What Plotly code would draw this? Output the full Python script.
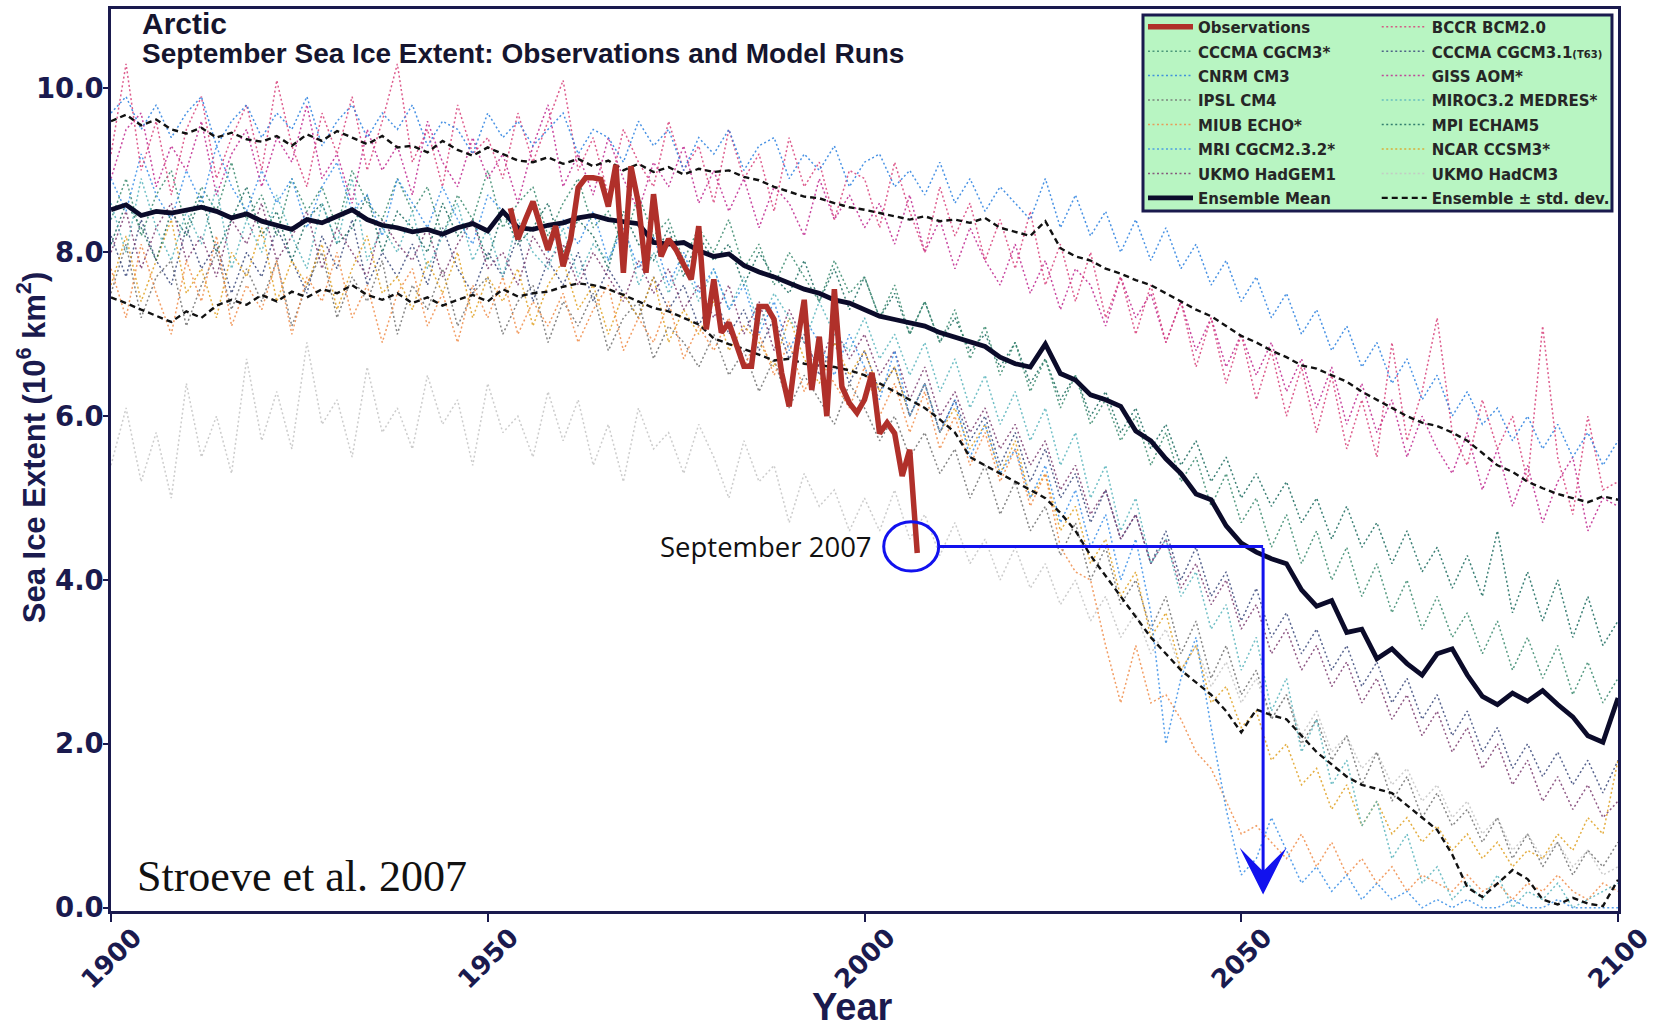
import plotly.graph_objects as go

# ---------------- data ----------------
model_years = list(range(1900, 2101, 2))
obs_years = list(range(1953, 2008))

observations = [
    8.54, 8.16, 8.40, 8.62, 8.32, 8.03, 8.32, 7.83, 8.16, 8.79,
    8.91, 8.91, 8.89, 8.56, 9.07, 7.75, 9.05, 8.60, 7.75, 8.71,
    7.95, 8.16, 8.03, 7.83, 7.67, 8.32, 7.06, 7.67, 7.02, 7.14,
    6.85, 6.61, 6.61, 7.34, 7.34, 7.18, 6.53, 6.12, 6.85, 7.42,
    6.32, 6.97, 6.00, 7.55, 6.36, 6.16, 6.04, 6.20, 6.53, 5.79,
    5.92, 5.79, 5.27, 5.59, 4.33,
]

bccr_bcm20 = [
    9.2, 10.3, 9.0, 9.6, 8.7, 9.5, 9.9, 8.9, 9.4, 9.8,
    9.0, 10.1, 9.3, 8.8, 9.7, 9.2, 9.9, 9.0, 9.6, 10.3,
    9.1, 9.5, 8.8, 9.8, 9.2, 9.4, 8.9, 9.7, 9.1, 9.6,
    10.1, 9.0, 9.4, 8.7, 9.5, 9.1, 8.8, 9.6, 9.0, 9.3,
    8.6, 9.5, 8.9, 9.2, 8.5, 9.4, 8.8, 9.1, 8.4, 9.0,
    8.9, 8.3, 9.1, 8.5, 8.0, 8.8, 8.2, 8.6, 7.9, 8.4,
    7.8, 8.5, 7.6, 8.1, 7.4, 8.0, 7.2, 7.7, 7.0, 7.6,
    6.9, 7.4, 6.6, 7.2, 6.4, 7.0, 6.2, 6.8, 6.0, 6.6,
    5.8, 6.5, 5.6, 6.2, 5.5, 6.9, 5.7, 6.3, 7.2, 5.8,
    5.4, 6.2, 5.6, 6.0, 5.2, 7.1, 5.5, 4.8, 6.0, 5.1,
    5.2,
]

cccma_cgcm3 = [
    8.4, 8.9, 8.2, 8.7, 9.0, 8.3, 8.8, 8.5, 9.1, 8.4,
    8.7, 8.2, 8.9, 8.5, 8.8, 8.3, 9.0, 8.6, 8.4, 8.9,
    8.5, 8.8, 8.2, 8.7, 8.4, 9.0, 8.3, 8.6, 8.8, 8.2,
    8.6, 8.9, 8.3, 8.5, 8.1, 8.7, 8.2, 8.4, 7.9, 8.3,
    8.0, 8.4, 7.8, 8.1, 7.6, 8.0, 7.7, 7.4, 7.9, 7.5,
    7.7, 7.2, 7.6, 7.0, 7.4, 6.9, 7.3, 6.7, 7.1, 6.5,
    6.9, 6.3, 6.7, 6.1, 6.5, 5.9, 6.2, 5.7, 6.0, 5.4,
    5.8, 5.2, 5.5, 4.9, 5.3, 4.7, 5.0, 4.4, 4.8, 4.2,
    4.6, 4.0, 4.4, 3.8, 4.2, 3.6, 4.0, 3.4, 3.8, 3.3,
    3.6, 3.1, 3.5, 2.9, 3.3, 2.8, 3.2, 2.6, 3.0, 2.5,
    2.8,
]

cccma_cgcm31_t63 = [
    8.2, 7.7, 8.4, 7.9, 7.6, 8.3, 7.8, 8.1, 7.5, 8.0,
    7.7, 8.3, 7.9, 7.5, 8.2, 7.8, 8.4, 7.6, 8.0, 7.7,
    8.1, 7.6, 8.3, 7.8, 7.5, 8.0, 7.7, 8.2, 7.4, 7.9,
    7.6, 8.0, 7.4, 7.8, 7.5, 7.2, 7.7, 7.3, 7.6, 7.1,
    7.5, 7.0, 7.3, 6.8, 7.2, 6.7, 7.0, 6.5, 6.9, 6.4,
    6.8, 6.3, 6.6, 6.0, 6.4, 5.8, 6.2, 5.7, 6.0, 5.4,
    5.8, 5.2, 5.6, 5.0, 5.3, 4.7, 5.1, 4.5, 4.8, 4.2,
    4.6, 4.0, 4.4, 3.8, 4.1, 3.5, 3.9, 3.3, 3.6, 3.1,
    3.4, 2.9, 3.2, 2.7, 3.0, 2.5, 2.8, 2.3, 2.6, 2.1,
    2.4, 1.9, 2.2, 1.7, 2.0, 1.6, 1.9, 1.5, 1.8, 1.4,
    1.8,
]

cnrm_cm3 = [
    9.7, 9.9, 9.5, 9.8, 9.4, 9.7, 9.9, 9.3, 9.6, 9.8,
    9.4, 9.7, 9.5, 9.9, 9.3, 9.6, 9.8, 9.4, 9.7, 9.5,
    9.8, 9.3, 9.6, 9.5, 9.2, 9.7, 9.4, 9.6, 9.3, 9.5,
    9.7, 9.2, 9.5, 9.4, 9.1, 9.6, 9.3, 9.5, 9.0, 9.4,
    9.2, 9.5, 9.0, 9.3, 9.4, 8.9, 9.2, 9.0, 9.3, 8.8,
    9.1, 9.2, 8.8, 9.0, 8.7, 9.1, 8.6, 8.9, 8.5, 8.8,
    8.6, 8.4, 8.9, 8.3, 8.7, 8.2, 8.5, 8.0, 8.4, 7.9,
    8.3, 7.8, 8.1, 7.6, 7.9, 7.4, 7.7, 7.2, 7.5, 7.0,
    7.3, 6.8, 7.1, 6.6, 6.9, 6.4, 6.7, 6.2, 6.5, 6.0,
    6.3, 5.9, 6.1, 5.7, 6.0, 5.6, 5.9, 5.5, 5.8, 5.4,
    5.7,
]

giss_aom = [
    8.9, 9.5, 9.7, 8.8, 9.3, 9.0, 9.6, 8.7, 9.2, 9.5,
    8.8, 9.4, 9.1, 9.8, 8.9, 9.2, 8.6, 9.5, 9.0, 9.3,
    8.7, 9.6, 9.1, 8.8, 9.4, 8.9, 9.2, 8.6, 9.3, 9.8,
    8.8, 9.2, 8.7, 9.4, 8.9, 8.5, 9.1, 8.8, 9.3, 8.6,
    9.0, 8.5, 8.9, 8.3, 8.8, 8.6, 8.2, 8.9, 8.4, 8.7,
    8.3, 8.6, 8.1, 8.7, 8.0, 8.4, 7.8, 8.3, 7.9, 7.6,
    8.1, 7.5, 7.9, 7.3, 7.8, 7.6, 7.1, 7.7, 7.2, 7.5,
    6.9, 7.4, 6.8, 7.2, 6.6, 7.0, 6.5, 6.9, 6.3, 6.7,
    6.1, 6.6, 5.9, 6.4, 5.8, 6.2, 5.5, 6.0, 5.6, 5.3,
    5.8, 5.1, 5.6, 4.9, 5.4, 4.7, 5.2, 5.5, 4.6, 5.0,
    4.9,
]

ipsl_cm4 = [
    7.5, 8.1, 7.2, 7.7, 7.9, 7.1, 7.6, 8.0, 7.3, 7.8,
    7.4, 7.9, 7.1, 7.6, 8.0, 7.2, 7.7, 7.4, 7.9, 7.0,
    7.6, 7.3, 7.8, 7.1, 7.5, 7.7, 7.0, 7.4, 7.6, 6.9,
    7.4, 7.1, 7.5, 6.8, 7.2, 7.4, 6.7, 7.1, 6.9, 6.6,
    7.0, 6.5, 6.8, 6.3, 6.7, 6.1, 6.5, 6.2, 5.9, 6.4,
    6.1, 5.7, 6.0, 5.5, 5.8, 5.3, 5.6, 5.0, 5.4, 4.8,
    5.2, 4.6, 4.9, 4.3, 4.7, 4.0, 4.4, 3.7, 4.0, 3.4,
    3.8, 3.1, 3.5, 2.8, 3.2, 2.6, 2.9, 2.3, 2.6, 2.0,
    2.3, 1.8, 2.1, 1.5, 1.9, 1.3, 1.6, 1.1, 1.4, 1.0,
    1.2, 0.8, 1.1, 0.6, 0.9, 0.5, 0.8, 0.4, 0.7, 0.5,
    0.8,
]

miroc32_medres = [
    8.6, 8.0, 8.9, 8.3, 7.9, 8.5, 8.1, 8.8, 7.8, 8.4,
    8.0, 8.7, 8.2, 7.8, 8.6, 8.1, 8.9, 7.9, 8.3, 8.0,
    8.5, 7.8, 8.2, 8.6, 7.9, 8.3, 7.7, 8.4, 8.0, 7.8,
    8.3, 7.7, 8.1, 7.9, 8.4, 7.6, 8.0, 7.5, 7.9, 7.4,
    7.8, 7.3, 7.7, 7.1, 7.5, 7.2, 6.9, 7.4, 7.0, 6.8,
    7.2, 6.7, 7.0, 6.5, 6.9, 6.3, 6.7, 6.1, 6.5, 5.9,
    6.3, 5.7, 6.1, 5.4, 5.8, 5.0, 5.4, 4.6, 5.0, 4.2,
    4.5, 3.8, 4.1, 3.4, 3.7, 2.9, 3.3, 2.4, 2.8, 1.9,
    2.3, 1.5, 1.8, 1.0, 1.3, 0.6, 0.9, 0.3, 0.5, 0.1,
    0.3, 0.1, 0.4, 0.0, 0.2, 0.1, 0.3, 0.0, 0.1, 0.2,
    0.3,
]

miub_echo = [
    7.8, 7.2, 8.1, 7.5, 7.0, 7.9, 7.4, 8.2, 7.1, 7.6,
    7.3, 7.9, 7.0, 7.7, 7.4, 8.0, 7.2, 7.6, 6.9, 7.5,
    7.8, 7.1, 7.5, 6.9, 7.6, 7.2, 7.7, 7.0, 7.4, 7.1,
    7.5, 6.9, 7.3, 7.6, 6.8, 7.2, 6.9, 7.4, 6.7, 7.1,
    6.8, 7.2, 6.6, 7.0, 6.5, 6.9, 6.3, 6.7, 6.4, 6.1,
    6.6, 6.0, 6.4, 5.8, 6.3, 5.6, 6.0, 5.4, 5.8, 5.2,
    5.6, 4.9, 5.3, 4.4, 4.1, 4.0, 3.2, 2.5, 3.2, 2.5,
    2.6, 2.3, 1.9, 1.7, 1.3, 0.9, 1.0, 0.8, 0.6, 0.9,
    0.5, 0.8, 0.4, 0.6, 0.3, 0.5, 0.2, 0.4, 0.3, 0.2,
    0.4, 0.2, 0.3, 0.1, 0.3, 0.2, 0.4, 0.2, 0.1, 0.3,
    0.2,
]

mpi_echam5 = [
    8.1, 8.6, 8.3, 7.9, 8.5, 8.2, 8.7, 8.0, 8.4, 8.8,
    8.2, 8.5, 7.9, 8.4, 8.6, 8.1, 8.3, 8.7, 8.0, 8.5,
    8.3, 8.0, 8.6, 8.2, 8.4, 7.9, 8.5, 8.1, 8.3, 8.6,
    8.0, 8.4, 8.2, 7.8, 8.5, 8.1, 7.9, 8.3, 7.7, 8.2,
    7.9, 8.1, 7.6, 8.0, 7.7, 7.5, 7.9, 7.4, 7.8, 7.3,
    7.7, 7.2, 7.5, 7.0, 7.4, 6.9, 7.2, 6.8, 7.0, 6.6,
    6.9, 6.4, 6.7, 6.2, 6.5, 6.0, 6.3, 5.8, 6.1, 5.6,
    5.9, 5.4, 5.7, 5.2, 5.5, 5.0, 5.3, 4.9, 5.2, 4.7,
    5.0, 4.5, 4.9, 4.4, 4.7, 4.2, 4.6, 4.1, 4.4, 3.9,
    4.3, 3.8, 4.6, 3.6, 4.1, 3.5, 4.0, 3.3, 3.8, 3.2,
    3.5,
]

mri_cgcm232 = [
    8.9, 8.5, 9.2, 8.7, 8.4, 9.0, 8.6, 9.3, 8.8, 8.5,
    9.0, 8.6, 8.9, 8.3, 8.8, 9.1, 8.5, 8.7, 8.2, 8.9,
    8.6, 8.3, 8.8, 8.4, 8.1, 8.7, 8.5, 8.2, 8.6, 8.0,
    8.4, 8.1, 8.5, 7.9, 8.3, 7.8, 8.2, 7.6, 8.0, 7.5,
    7.8, 7.3, 7.6, 7.0, 7.4, 6.8, 7.2, 6.9, 6.5, 7.0,
    6.6, 6.2, 6.8, 6.0, 6.4, 5.8, 6.2, 5.5, 5.9, 5.3,
    5.6, 5.0, 5.4, 4.7, 5.1, 4.4, 4.8, 4.0, 4.5, 3.6,
    2.0, 2.8, 3.3, 2.2, 1.2, 0.4, 0.6, 1.1, 0.7, 0.3,
    0.5, 0.2, 0.4, 0.1, 0.3, 0.1, 0.2, 0.0, 0.1, 0.0,
    0.1, 0.0, 0.0, 0.1, 0.0, 0.0, 0.1, 0.0, 0.0, 0.0,
    0.0,
]

ncar_ccsm3 = [
    7.6, 8.2, 7.4, 7.9, 8.4, 7.5, 7.8, 7.2, 8.0, 7.7,
    8.3, 7.4, 7.9, 7.6, 8.1, 7.3, 7.8, 8.2, 7.5, 7.7,
    7.3, 7.9, 7.5, 8.0, 7.2, 7.7, 7.4, 7.8, 7.1, 7.6,
    7.9, 7.3, 7.6, 7.0, 7.5, 7.2, 7.7, 6.9, 7.3, 7.0,
    7.4, 6.8, 7.1, 6.9, 6.6, 7.2, 6.7, 6.4, 6.9, 6.5,
    6.8, 6.3, 6.6, 6.0, 6.4, 5.8, 6.1, 5.6, 5.9, 5.3,
    5.7, 5.0, 5.3, 4.6, 4.9, 4.2, 4.5, 3.8, 4.1, 3.3,
    3.6, 2.9, 3.2, 2.5, 2.7, 2.2, 2.4, 1.8, 2.0, 1.5,
    1.7, 1.2, 1.5, 1.0, 1.3, 0.9, 1.1, 0.8, 1.0, 0.7,
    0.9, 0.6, 0.8, 0.5, 0.7, 0.6, 0.9, 0.7, 1.1, 0.9,
    1.8,
]

ukmo_hadgem1 = [
    8.0, 8.5, 7.8, 8.3, 8.6, 7.9, 8.2, 7.7, 8.4, 8.1,
    8.6, 7.9, 8.2, 8.5, 7.8, 8.3, 8.0, 7.7, 8.4, 8.1,
    7.9, 8.3, 7.7, 8.1, 8.4, 7.8, 8.0, 7.6, 8.2, 7.9,
    8.1, 7.6, 8.0, 7.7, 7.4, 7.9, 7.5, 7.8, 7.3, 7.6,
    7.2, 7.6, 7.0, 7.4, 6.8, 7.3, 6.9, 6.6, 7.1, 6.7,
    7.0, 6.5, 6.8, 6.2, 6.6, 6.0, 6.3, 5.8, 6.1, 5.6,
    5.9, 5.4, 5.7, 5.1, 5.4, 4.8, 5.1, 4.5, 4.8, 4.2,
    4.5, 3.9, 4.2, 3.7, 4.0, 3.4, 3.7, 3.1, 3.4, 2.9,
    3.2, 2.7, 3.0, 2.5, 2.8, 2.3, 2.6, 2.1, 2.4, 1.9,
    2.2, 1.7, 2.0, 1.5, 1.8, 1.3, 1.6, 1.2, 1.5, 1.1,
    1.3,
]

ukmo_hadcm3 = [
    5.4, 6.1, 5.2, 5.8, 5.0, 6.4, 5.5, 6.0, 5.3, 6.7,
    5.7, 6.3, 5.6, 6.9, 5.9, 6.2, 5.5, 6.6, 5.8, 6.1,
    5.6, 6.5, 5.9, 6.2, 5.4, 6.4, 5.8, 6.0, 5.5, 6.3,
    5.7, 6.2, 5.4, 5.9, 5.2, 6.1, 5.6, 5.8, 5.3, 5.9,
    5.5, 5.0, 5.7, 5.2, 5.4, 4.7, 5.3, 4.9, 5.1, 4.6,
    5.0, 4.6, 5.1, 4.5, 4.8, 4.3, 4.7, 4.2, 4.5, 4.0,
    4.4, 3.9, 4.2, 3.7, 4.0, 3.5, 3.8, 3.3, 3.6, 3.1,
    3.4, 2.9, 3.2, 2.7, 3.0, 2.5, 2.8, 2.3, 2.6, 2.1,
    2.4, 1.9, 2.1, 1.7, 1.9, 1.5, 1.7, 1.3, 1.5, 1.1,
    1.3, 0.9, 1.1, 0.7, 0.9, 0.6, 0.8, 0.5, 0.7, 0.4,
    0.5,
]

ensemble_mean = [
    8.52, 8.58, 8.45, 8.50, 8.48, 8.52, 8.55, 8.50, 8.42, 8.47,
    8.38, 8.33, 8.28, 8.40, 8.36, 8.44, 8.52, 8.40, 8.33, 8.30,
    8.25, 8.28, 8.22, 8.30, 8.35, 8.26, 8.50, 8.30, 8.28, 8.33,
    8.36, 8.42, 8.45, 8.40, 8.38, 8.35, 8.12, 8.10, 8.12, 8.02,
    7.95, 7.98, 7.84, 7.76, 7.70, 7.62, 7.55, 7.50, 7.42, 7.38,
    7.30, 7.22, 7.18, 7.14, 7.10, 7.02, 6.96, 6.90, 6.85, 6.72,
    6.64, 6.60, 6.88, 6.52, 6.44, 6.26, 6.20, 6.12, 5.82, 5.70,
    5.48, 5.30, 5.05, 4.98, 4.66, 4.45, 4.34, 4.26, 4.20, 3.88,
    3.68, 3.75, 3.36, 3.40, 3.04, 3.16, 2.98, 2.84, 3.10, 3.16,
    2.84, 2.58, 2.48, 2.62, 2.52, 2.65, 2.48, 2.33, 2.10, 2.02,
    2.56,
]

ensemble_plus_sd = [
    9.60, 9.68, 9.55, 9.62, 9.50, 9.45, 9.52, 9.40, 9.46, 9.38,
    9.35, 9.42, 9.30, 9.44, 9.36, 9.48, 9.40, 9.32, 9.42, 9.28,
    9.30, 9.22, 9.36, 9.25, 9.18, 9.28, 9.20, 9.12, 9.10, 9.16,
    9.08, 9.14, 9.05, 9.12, 9.00, 9.08, 8.98, 9.04, 8.95, 9.02,
    8.98, 9.00, 8.92, 8.88, 8.80, 8.74, 8.68, 8.66, 8.60, 8.55,
    8.52, 8.48, 8.44, 8.40, 8.44, 8.38, 8.40, 8.36, 8.42, 8.30,
    8.25, 8.20, 8.38, 8.05, 7.95, 7.90, 7.80, 7.74, 7.66, 7.60,
    7.50, 7.40, 7.30, 7.22, 7.10, 6.98, 6.90, 6.80, 6.72, 6.62,
    6.58, 6.50, 6.42, 6.30, 6.20, 6.10, 6.00, 5.92, 5.88, 5.80,
    5.70, 5.55, 5.40, 5.32, 5.20, 5.12, 5.05, 5.00, 4.95, 5.02,
    4.98,
]

ensemble_minus_sd = [
    7.45, 7.38, 7.30, 7.22, 7.15, 7.28, 7.20, 7.35, 7.42, 7.36,
    7.48, 7.40, 7.52, 7.45, 7.55, 7.50, 7.60, 7.48, 7.42, 7.50,
    7.38, 7.45, 7.35, 7.42, 7.48, 7.40, 7.55, 7.46, 7.50, 7.52,
    7.58, 7.62, 7.60, 7.55, 7.48, 7.40, 7.32, 7.28, 7.20, 7.12,
    6.95, 6.88, 6.82, 6.75, 6.68, 6.70, 6.64, 6.62, 6.60, 6.56,
    6.50, 6.40, 6.30, 6.20, 6.10, 5.96, 5.80, 5.50, 5.40, 5.30,
    5.20, 5.10, 5.00, 4.82, 4.60, 4.30, 4.05, 3.80, 3.55, 3.30,
    3.10, 2.90, 2.75, 2.60, 2.40, 2.14, 2.42, 2.35, 2.30, 2.10,
    1.90, 1.75, 1.60, 1.50, 1.45, 1.40, 1.25, 1.10, 0.95, 0.65,
    0.25, 0.13, 0.30, 0.46, 0.35, 0.10, 0.04, 0.12, 0.05, 0.02,
    0.34,
]

x_tick_values = [1900, 1950, 2000, 2050, 2100]
y_tick_values = [0, 2, 4, 6, 8, 10]

# annotation data (September 2007 marker)
sept2007_year = 2006.2
sept2007_extent = 4.41
arrow_year = 2052.9
arrow_tip_extent = 0.16

# ---------------- styles ----------------
NAVY = "#1a1a4e"
BLUE = "#1212ee"
LEG_BG = "#b8f5c2"
LEG = "<span style='font-size:15px'>{}</span>"

model_series = [
    # (name, values, color, legend, rank)
    ("UKMO HadCM3", ukmo_hadcm3, "#c4c4c4", "legend2", 7),
    ("IPSL CM4", ipsl_cm4, "#707070", "legend", 4),
    ("CCCMA CGCM3.1<span style='font-size:10px'>(T63)</span>", cccma_cgcm31_t63, "#3c4a7c", "legend2", 2),
    ("UKMO HadGEM1", ukmo_hadgem1, "#7c3c70", "legend", 7),
    ("NCAR CCSM3*", ncar_ccsm3, "#e0a020", "legend2", 6),
    ("MIUB ECHO*", miub_echo, "#f08c48", "legend", 5),
    ("MPI ECHAM5", mpi_echam5, "#1a6a5e", "legend2", 5),
    ("CCCMA CGCM3*", cccma_cgcm3, "#3a8a6e", "legend", 2),
    ("MIROC3.2 MEDRES*", miroc32_medres, "#58b4bc", "legend2", 4),
    ("MRI CGCM2.3.2*", mri_cgcm232, "#3a90e8", "legend", 6),
    ("GISS AOM*", giss_aom, "#c02890", "legend2", 3),
    ("BCCR BCM2.0", bccr_bcm20, "#d8407a", "legend2", 1),
    ("CNRM CM3", cnrm_cm3, "#2a80e0", "legend", 3),
]

fig = go.Figure()

for name, vals, color, leg, rank in model_series:
    fig.add_trace(go.Scatter(
        x=model_years, y=vals, mode="lines", name=LEG.format(name),
        line=dict(color=color, width=1.5, dash="2px,2.5px"),
        opacity=0.85, legend=leg, legendrank=rank, hoverinfo="skip",
    ))

fig.add_trace(go.Scatter(
    x=model_years, y=ensemble_plus_sd, mode="lines",
    name=LEG.format("Ensemble ± std. dev."),
    line=dict(color="#111111", width=2.4, dash="6px,4px"),
    legend="legend2", legendrank=8,
))
fig.add_trace(go.Scatter(
    x=model_years, y=ensemble_minus_sd, mode="lines", showlegend=False,
    line=dict(color="#111111", width=2.4, dash="6px,4px"),
))
fig.add_trace(go.Scatter(
    x=model_years, y=ensemble_mean, mode="lines",
    name=LEG.format("Ensemble Mean"),
    line=dict(color="#0b0b2a", width=4.8), legend="legend", legendrank=8,
))
fig.add_trace(go.Scatter(
    x=obs_years, y=observations, mode="lines",
    name=LEG.format("Observations"),
    line=dict(color="#b0302a", width=5.5), legend="legend", legendrank=1,
))

# legend box (one green panel behind the two legend columns)
fig.add_shape(type="rect", xref="paper", yref="paper",
              x0=0.6848, x1=0.9960, y0=0.7761, y1=0.9933,
              fillcolor=LEG_BG, line=dict(color=NAVY, width=3), layer="above")

# September 2007 marker
fig.add_shape(type="circle", xref="x", yref="y",
              x0=sept2007_year - 3.65, x1=sept2007_year + 3.65,
              y0=sept2007_extent - 0.30, y1=sept2007_extent + 0.30,
              line=dict(color=BLUE, width=3))
fig.add_shape(type="line", xref="x", yref="y",
              x0=sept2007_year + 3.65, x1=arrow_year,
              y0=sept2007_extent, y1=sept2007_extent,
              line=dict(color=BLUE, width=3))
fig.add_annotation(x=arrow_year, y=arrow_tip_extent, ax=arrow_year, ay=sept2007_extent,
                   xref="x", yref="y", axref="x", ayref="y", text="",
                   showarrow=True, arrowhead=3, arrowsize=2.6, arrowwidth=3,
                   arrowcolor=BLUE)
fig.add_annotation(x=2001.2, y=sept2007_extent, xref="x", yref="y",
                   text="September 2007", showarrow=False, xanchor="right",
                   yanchor="middle",
                   font=dict(family="Open Sans", size=27.5, color="#111111"))

# titles and credits
fig.add_annotation(x=0.019, y=0.984, xref="paper", yref="paper", text="Arctic",
                   showarrow=False, xanchor="left", yanchor="middle",
                   font=dict(family="Liberation Sans", size=30, color="#15152e", weight="bold"))
fig.add_annotation(x=0.019, y=0.951, xref="paper", yref="paper",
                   text="September Sea Ice Extent: Observations and Model Runs",
                   showarrow=False, xanchor="left", yanchor="middle",
                   font=dict(family="Liberation Sans", size=28, color="#15152e", weight="bold"))
fig.add_annotation(x=0.016, y=0.0377, xref="paper", yref="paper",
                   text="Stroeve et al. 2007", showarrow=False,
                   xanchor="left", yanchor="middle",
                   font=dict(family="Liberation Serif", size=44, color="#111111"))
fig.add_annotation(x=0.492, y=-0.106, xref="paper", yref="paper", text="Year",
                   showarrow=False, xanchor="center", yanchor="middle",
                   font=dict(family="Liberation Sans", size=38, color=NAVY, weight="bold"))
fig.add_annotation(x=-0.0525, y=0.514, xref="paper", yref="paper",
                   text="Sea Ice Extent (10<sup>6</sup> km<sup>2</sup>)",
                   textangle=-90, showarrow=False, xanchor="center", yanchor="middle",
                   font=dict(family="Liberation Sans", size=31, color=NAVY, weight="bold"))

legend_common = dict(
    y=0.9995, yanchor="top",
    bgcolor="rgba(0,0,0,0)", borderwidth=0,
    font=dict(family="DejaVu Sans", size=16.5, color="#262626", weight="bold"),
    itemwidth=45, traceorder="normal", orientation="v",
)

fig.update_layout(
    width=1653, height=1027,
    margin=dict(l=111, r=35, t=9, b=116, autoexpand=False),
    paper_bgcolor="white", plot_bgcolor="white",
    showlegend=True,
    legend=dict(x=0.6848, xanchor="left", **legend_common),
    legend2=dict(x=0.8399, xanchor="left", **legend_common),
    xaxis=dict(
        range=[1900, 2100], tickvals=x_tick_values, tickangle=-45,
        ticks="outside", ticklen=8, tickwidth=2, tickcolor=NAVY,
        showline=True, linewidth=2.5, linecolor=NAVY, mirror=True,
        showgrid=False, zeroline=False, ticklabelshift=23,
        ticklabelstandoff=-10, ticklabeloverflow="allow",
        tickfont=dict(family="DejaVu Sans", size=26, color=NAVY, weight="bold"),
    ),
    yaxis=dict(
        range=[-0.04, 10.97], tickvals=y_tick_values, tickformat=".1f",
        ticks="outside", ticklen=5, tickwidth=2, tickcolor=NAVY,
        showline=True, linewidth=2.5, linecolor=NAVY, mirror=True,
        showgrid=False, zeroline=False, ticklabelstandoff=-6,
        tickfont=dict(family="DejaVu Sans", size=27.5, color=NAVY, weight="bold"),
    ),
)

fig.write_html("out.html", config={"displayModeBar": False},
               post_script="document.body.style.margin='0';")
